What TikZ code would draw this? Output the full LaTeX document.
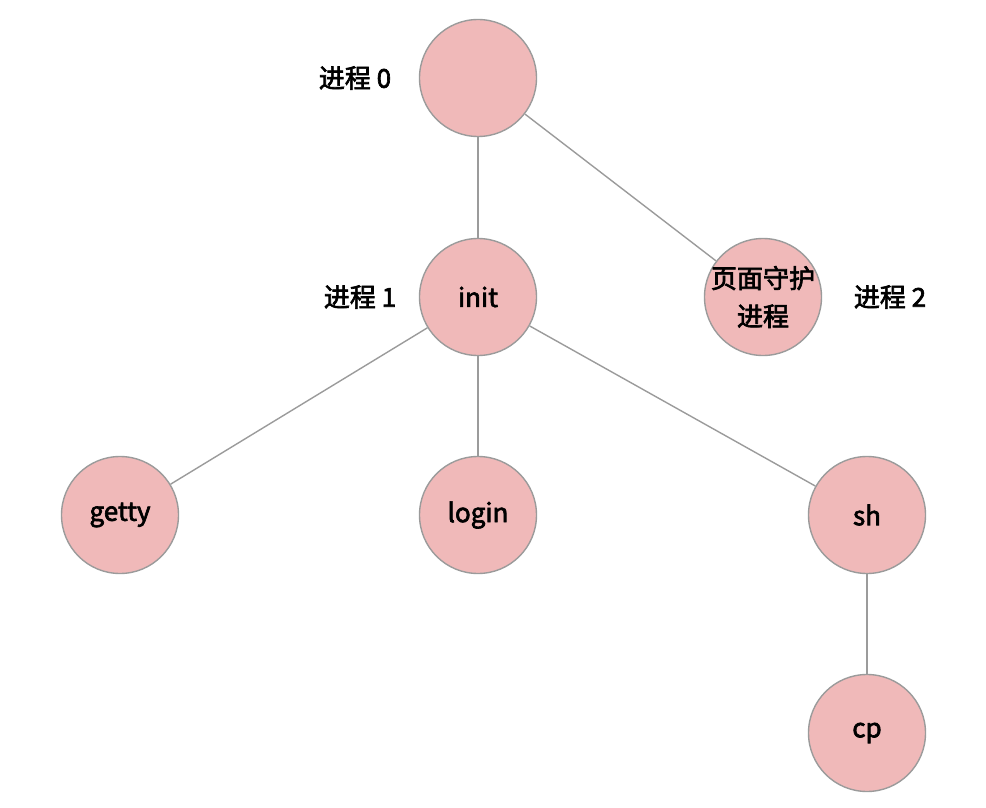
\documentclass[tikz,border=0pt]{standalone}
\usepackage{fontspec}
\setmainfont{Noto Sans CJK SC}[BoldFont={Noto Sans CJK SC},BoldFeatures={FakeBold=2.5}]
\definecolor{procpink}{RGB}{240,185,185}
\definecolor{procgray}{RGB}{155,155,155}

\begin{document}
\begin{tikzpicture}[x=1pt,y=-1pt,
  proc/.style={circle,draw=procgray,line width=1.4pt,fill=procpink,minimum size=117pt,inner sep=0pt,align=center,font=\fontsize{26}{38}\selectfont\bfseries},
  tag/.style={font=\fontsize{26}{30}\selectfont\bfseries},
  edge/.style={draw=procgray,line width=1.4pt}]
\useasboundingbox (0,0) rectangle (986,808);
%================================================================
%	Processes
\node[proc] (root)   at (478,78)  {};
\node[proc] (init)   at (478,297) {init};
\node[proc,label={[align=center,font=\fontsize{26}{38}\selectfont\bfseries]center:页面守护\\进程}] (daemon) at (763,297) {};
\node[proc] (getty)  at (120,515) {getty};
\node[proc] (login)  at (478,515) {login};
\node[proc] (sh)     at (867,515) {sh};
\node[proc] (cp)     at (867,733) {cp};
%----------------------------------------------------------------
\node[tag] (t0) at (355,78)  {进程 0};
\node[tag] (t1) at (360,297) {进程 1};
\node[tag] (t2) at (890,297) {进程 2};
%================================================================
%	Edges
\draw[edge] (root) -- (init);
\draw[edge] (root) -- (daemon);
\draw[edge] (init) -- (getty);
\draw[edge] (init) -- (login);
\draw[edge] (init) -- (sh);
\draw[edge] (sh) -- (cp);
%================================================================
\end{tikzpicture}
\end{document}
